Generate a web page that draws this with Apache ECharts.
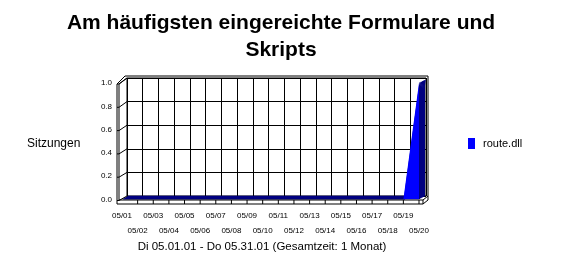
<!DOCTYPE html>
<html>
<head>
<meta charset="utf-8">
<script src="https://cdn.jsdelivr.net/npm/echarts@6/dist/echarts.min.js"></script>
<style>html,body{margin:0;padding:0;background:#fff;}#c{width:562px;height:259px;}</style>
</head>
<body>
<div id="c"></div>
<script>
const categories = ['05/01','05/02','05/03','05/04','05/05','05/06','05/07','05/08','05/09','05/10',
                    '05/11','05/12','05/13','05/14','05/15','05/16','05/17','05/18','05/19','05/20'];
const sessions = [0,0,0,0,0,0,0,0,0,0,0,0,0,0,0,0,0,0,0,1];
const seriesName = 'route.dll';
const yMin = 0, yMax = 1, yStep = 0.2;
const titleText = 'Am häufigsten eingereichte Formulare und\nSkripts';
const yAxisTitle = 'Sitzungen';
const subText = 'Di 05.01.01 - Do 05.31.01 (Gesamtzeit: 1 Monat)';

const FONT = '"Liberation Sans", Arial, sans-serif';
const BLUE = '#0000FF', NAVY = '#000080';

const chart = echarts.init(document.getElementById('c'), null, {renderer: 'canvas'});

const front = {left: 122, top: 83, w: 297, h: 116.5};
const depthSteps = [1, 2, 3, 4, 5];
const grids = [
  {left: 127, top: 78, width: 299, height: 118, show: true, borderColor: '#000', borderWidth: 1, backgroundColor: '#fff'},
  {left: front.left, top: front.top, width: front.w, height: front.h}
];
depthSteps.forEach(k => grids.push({left: front.left + k * 1.2, top: front.top - k * 0.6, width: front.w, height: front.h}));

const xAxes = [], yAxes = [], series = [];
grids.forEach((g, i) => {
  xAxes.push({
    gridIndex: i, type: 'category', data: categories, boundaryGap: false,
    axisLine: {show: false}, axisTick: {show: false},
    splitLine: {show: i === 0, interval: 0, lineStyle: {color: '#000', width: 1}},
    axisLabel: i === 1 ? {
      show: true, interval: 0, margin: 9, fontSize: 8, lineHeight: 15, color: '#000', fontFamily: FONT,
      formatter: (v, idx) => (idx % 2 ? '\n' + v : v)
    } : {show: false, interval: 0}
  });
  yAxes.push({
    gridIndex: i, type: 'value', min: yMin, max: yMax, interval: yStep,
    axisLine: {show: false}, axisTick: {show: false},
    splitLine: {show: i === 0, lineStyle: {color: '#000', width: 1}},
    axisLabel: i === 1 ? {show: true, margin: 10, fontSize: 8, color: '#000', fontFamily: FONT,
      formatter: v => v.toFixed(1)} : {show: false}
  });
});

depthSteps.slice().reverse().forEach(k => {
  series.push({
    name: 'depth' + k, type: 'line', xAxisIndex: k + 1, yAxisIndex: k + 1, data: sessions,
    symbol: 'none', silent: true, z: 3,
    lineStyle: {color: NAVY, width: 1.5}, areaStyle: {color: NAVY, opacity: 1}, itemStyle: {color: NAVY}
  });
});
series.push({
  name: seriesName, type: 'line', xAxisIndex: 1, yAxisIndex: 1, data: sessions,
  symbol: 'none', z: 4,
  lineStyle: {width: 0, color: BLUE}, areaStyle: {color: BLUE, opacity: 1}, itemStyle: {color: BLUE}
});

chart.setOption({
  backgroundColor: '#fff',
  animation: false,
  title: {
    text: titleText, left: 'center', top: 5,
    textStyle: {fontFamily: FONT, fontSize: 21, fontWeight: 'bold', lineHeight: 27, color: '#000'}
  },
  legend: {
    data: [seriesName], left: 463, top: 133, icon: 'rect', itemWidth: 7, itemHeight: 11, itemGap: 6,
    textStyle: {fontFamily: FONT, fontSize: 11, color: '#000', padding: [0, 0, 0, 3]}
  },
  grid: grids, xAxis: xAxes, yAxis: yAxes, series: series
});

function px(g, x, y) { return chart.convertToPixel({xAxisIndex: g, yAxisIndex: g}, [x, y]); }
const b00 = px(0, 0, yMin), b11 = px(0, categories.length - 1, yMax);
const f00 = px(1, 0, yMin), f11 = px(1, categories.length - 1, yMax);
const wx = f00[0] - 5;
const floorTop = f00[1] + 0.5, floorBot = floorTop + 4;
const backL = b00[0], backR = b11[0], backT = b11[1], backB = b00[1];
const ls = {stroke: '#000', lineWidth: 1, fill: null};
const g = [];
function line(pts, z) { g.push({type: 'polyline', shape: {points: pts}, style: ls, z: z || 10, silent: true}); }
line([[wx, f11[1] + 1], [wx, floorBot]]);
line([[wx + 2, f11[1] + 1], [wx + 2, floorTop]]);
line([[wx, f11[1] + 1], [backL - 2, backT - 2], [backR + 2, backT - 2], [backR + 2, backB + 4], [backR - 3, floorBot]]);
line([[wx + 2, f11[1] + 1], [backL, backT]]);
for (let v = yMin; v <= yMax + 1e-9; v += yStep) {
  const fy = px(1, 0, v)[1] + 1, by = px(0, 0, v)[1];
  line([[wx, fy], [wx + 2, fy], [backL, by]]);
}
line([[wx + 2, floorTop], [backR - 3, floorTop], [backR + 2, backB]]);
line([[wx, floorBot], [backR - 3, floorBot], [backR - 3, floorTop]]);
for (let i = 1; i < categories.length; i++) {
  const x = px(1, i, yMin)[0];
  line([[x, floorTop], [x, floorBot]]);
}
g.push({type: 'text', x: 27, y: 144, style: {text: yAxisTitle, fontFamily: FONT, fontSize: 12, fill: '#000', verticalAlign: 'middle'}, z: 10});
g.push({type: 'text', x: 262, y: 247, style: {text: subText, fontFamily: FONT, fontSize: 11.5, fill: '#000', align: 'center', verticalAlign: 'middle'}, z: 10});
chart.setOption({graphic: g});
</script>
</body>
</html>
